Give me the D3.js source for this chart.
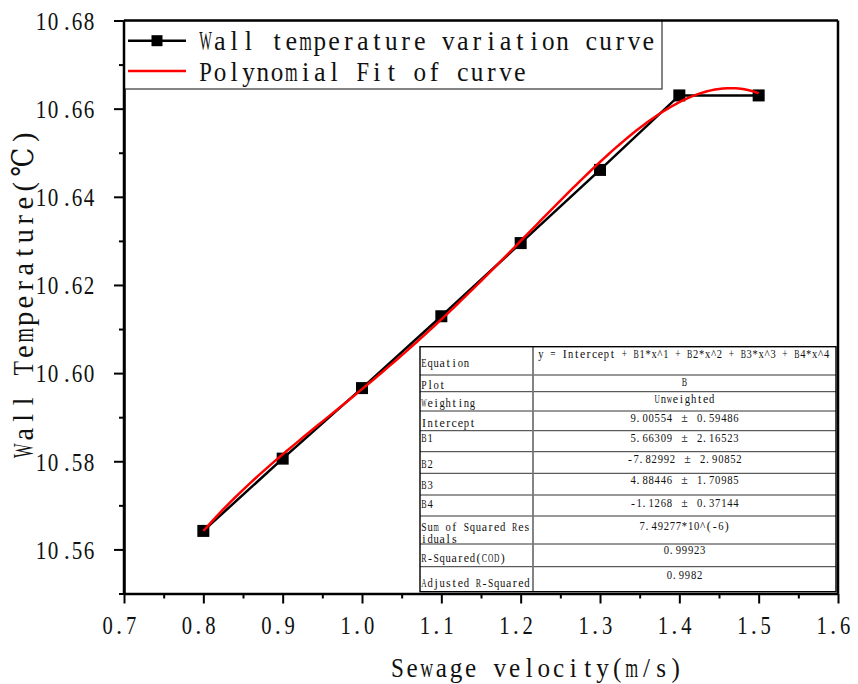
<!DOCTYPE html>
<html>
<head>
<meta charset="utf-8">
<script src="https://cdn.jsdelivr.net/npm/d3@7"></script>
<style>
  html, body { margin: 0; padding: 0; background: #fff; }
  svg { display: block; }
  text { font-family: "Liberation Serif", "DejaVu Serif", serif; fill: #111; }
</style>
</head>
<body>
<svg id="chart" width="858" height="684"></svg>
<script>
// ---- data ----
const velocity = [0.8, 0.9, 1.0, 1.1, 1.2, 1.3, 1.4, 1.5];
const wallTemp = [10.5642, 10.5806, 10.5966, 10.6129, 10.6295, 10.6461, 10.6630, 10.6630];

// polynomial fit: y = Intercept + B1*x + B2*x^2 + B3*x^3 + B4*x^4
const fitCoef = [9.00554, 5.66309, -7.82992, 4.88446, -1.1268];
const fitErr  = [0.59486, 2.16523, 2.90852, 1.70985, 0.37144];

const xTicks = [0.7, 0.8, 0.9, 1.0, 1.1, 1.2, 1.3, 1.4, 1.5, 1.6];
const xMinor = [0.75, 0.85, 0.95, 1.05, 1.15, 1.25, 1.35, 1.45, 1.55];
const yTicks = [10.56, 10.58, 10.60, 10.62, 10.64, 10.66, 10.68];
const yMinor = [10.55, 10.57, 10.59, 10.61, 10.63, 10.65, 10.67];

const legendNames = ["Wall temperature variation curve", "Polynomial Fit of curve"];
const xTitle = "Sewage velocity(m/s)";
const yTitle = "Wall Temperature(\u2103)";

const tableLabels = ["Equation", "Plot", "Weighting", "Intercept", "B1", "B2", "B3", "B4",
  "Sum of Squared Res|iduals", "R-Squared(COD)", "Adjusted R-Squared"];
const tableValues = [
  "y = Intercept + B1*x^1 + B2*x^2 + B3*x^3 + B4*x^4",
  "B",
  "Unweighted",
  ...fitCoef.map((c, i) => `${c} \u00b1 ${fitErr[i]}`),
  "7.49277*10^(-6)",
  "0.99923",
  "0.9982"
];

// ---- fixed-pitch text: one tspan per glyph, each squeezed into its own cell ----
const FONT = '"Liberation Serif", "DejaVu Serif", serif';
const measureCtx = document.createElement("canvas").getContext("2d");
const isWide = ch => /[\u00b1\u2103]/.test(ch);
function monoText(parent, str, o) {
  const { x = 0, y = 0, pitch, fs, k = 0.95, fill = 0.88, anchor = "start", rotate = 0 } = o;
  measureCtx.font = `${fs}px ${FONT}`;
  const chars = Array.from(str);
  const total = chars.reduce((n, ch) => n + (isWide(ch) ? 2 : 1), 0) * pitch;
  const off = anchor === "middle" ? -total / 2 : anchor === "end" ? -total : 0;
  const g = parent.append("g")
    .attr("transform", `translate(${x},${y})` + (rotate ? ` rotate(${rotate})` : ""));
  const t = g.append("text").attr("font-size", fs);
  let cell = 0;
  chars.forEach(ch => {
    const u = isWide(ch) ? 2 : 1;
    if (ch !== " ") {
      const w = measureCtx.measureText(ch).width;
      const tw = Math.min(w * k, fill * u * pitch);
      const cx = ch === "." ? off + (cell + 0.3) * pitch : off + (cell + u / 2) * pitch;
      t.append("tspan").attr("x", (cx - tw / 2).toFixed(2)).attr("y", 0)
        .attr("textLength", tw.toFixed(2)).attr("lengthAdjust", "spacingAndGlyphs").text(ch);
    }
    cell += u;
  });
  return g;
}

// ---- layout ----
const svg = d3.select("#chart");
const L = 124, R = 838, T = 20.5, B = 593.5;
const x = d3.scaleLinear().domain([0.7, 1.6]).range([L, R]);
const y = d3.scaleLinear().domain([10.55, 10.68]).range([B, T]);

// ---- axes ----
const axisW = 2.5;
const gx = svg.append("g").attr("transform", `translate(0,${B})`)
  .call(d3.axisBottom(x).tickValues(xTicks).tickSize(10).tickSizeOuter(0).tickFormat(d3.format(".1f")));
svg.append("g").attr("transform", `translate(0,${B})`)
  .call(d3.axisBottom(x).tickValues(xMinor).tickSize(5).tickSizeOuter(0).tickFormat(""))
  .select(".domain").remove();
const gy = svg.append("g").attr("transform", `translate(${L},0)`)
  .call(d3.axisLeft(y).tickValues(yTicks).tickSize(10).tickSizeOuter(0).tickFormat(d3.format(".2f")));
svg.append("g").attr("transform", `translate(${L},0)`)
  .call(d3.axisLeft(y).tickValues(yMinor).tickSize(5).tickSizeOuter(0).tickFormat(""))
  .select(".domain").remove();

svg.selectAll(".domain").attr("stroke", "#000").attr("stroke-width", axisW);
svg.selectAll(".tick line").attr("stroke", "#000").attr("stroke-width", 2);

// fixed-pitch labels inside each tick group
gx.selectAll(".tick").each(function () {
  const t = d3.select(this);
  const s = t.select("text").text();
  t.select("text").remove();
  monoText(t, s, { x: 0, y: 40.8, pitch: 11.7, fs: 26, anchor: "middle" });
});
gy.selectAll(".tick").each(function () {
  const t = d3.select(this);
  const s = t.select("text").text();
  t.select("text").remove();
  monoText(t, s, { x: -18.5, y: 8.8, pitch: 12.0, fs: 26, anchor: "end" });
});

// frame on the right
svg.append("line").attr("x1", R).attr("x2", R).attr("y1", T).attr("y2", B)
  .attr("stroke", "#000").attr("stroke-width", axisW);

// axis titles
monoText(svg, xTitle, { x: 536.5, y: 677, pitch: 14.65, fs: 26.5, anchor: "middle" });
monoText(svg, yTitle, { x: 33, y: 294, pitch: 16.5, fs: 30, anchor: "middle", rotate: -90 });

// ---- fit table ----
const tL = 420, tM = 533, tR = 836;
const rowEdges = [346.7, 375, 391.7, 411, 430.7, 451.7, 473.3, 495, 516, 544, 566.7, 591.7];
const labelBase = [366.7, 389.3, 406.7, 426.7, 442.3, 467.7, 489, 508.3, 543, 561.7, 586.5];
const valueBase = [358.3, 386, 403.3, 422.3, 441.7, 463.3, 484.3, 506.7, 530, 554.3, 579.3];
const tbl = svg.append("g");
tbl.append("rect").attr("x", tL).attr("y", rowEdges[0]).attr("width", tR - tL)
  .attr("height", rowEdges[rowEdges.length - 1] - rowEdges[0]).attr("fill", "#fff");
rowEdges.slice(1, -1).forEach(e => {
  tbl.append("line").attr("x1", tL).attr("x2", tR).attr("y1", e).attr("y2", e)
    .attr("stroke", "#333").attr("stroke-width", 1);
});
tbl.append("line").attr("x1", tM).attr("x2", tM).attr("y1", rowEdges[0]).attr("y2", rowEdges[rowEdges.length - 1])
  .attr("stroke", "#777").attr("stroke-width", 1.8);
tbl.append("rect").attr("x", tL).attr("y", rowEdges[0]).attr("width", tR - tL)
  .attr("height", rowEdges[rowEdges.length - 1] - rowEdges[0])
  .attr("fill", "none").attr("stroke", "#000").attr("stroke-width", 1.4);

const tFont = 12.6, tChar = 6.05;
tableLabels.forEach((lab, i) => {
  const parts = lab.split("|");
  parts.forEach((p, k) => {
    const base = labelBase[i] - 12.3 * (parts.length - 1 - k);
    monoText(tbl, p, { x: tL + 1, y: base, pitch: tChar, fs: tFont });
  });
});
tableValues.forEach((v, i) => {
  if (i === 0) monoText(tbl, v, { x: tM + 5, y: valueBase[i], pitch: 5.95, fs: tFont });
  else monoText(tbl, v, { x: (tM + tR) / 2, y: valueBase[i], pitch: tChar, fs: tFont, anchor: "middle" });
});

// ---- series ----
const pts = velocity.map((v, i) => [v, wallTemp[i]]);
svg.append("path").datum(pts)
  .attr("d", d3.line().x(d => x(d[0])).y(d => y(d[1])))
  .attr("fill", "none").attr("stroke", "#000").attr("stroke-width", 2.5);
const ms = 12;
svg.append("g").selectAll("rect").data(pts).join("rect")
  .attr("x", d => x(d[0]) - ms / 2).attr("y", d => y(d[1]) - ms / 2)
  .attr("width", ms).attr("height", ms).attr("fill", "#000");

const poly = v => fitCoef.reduce((s, c, k) => s + c * Math.pow(v, k), 0);
const fitX = d3.range(0, 141).map(i => 0.8 + i * 0.005);
svg.append("path").datum(fitX)
  .attr("d", d3.line().x(v => x(v)).y(v => y(poly(v))))
  .attr("fill", "none").attr("stroke", "#ff0000").attr("stroke-width", 2.5);

// ---- legend ----
const lg = svg.append("g");
lg.append("rect").attr("x", L).attr("y", T).attr("width", 662 - L).attr("height", 89 - T)
  .attr("fill", "#fff").attr("stroke", "#333").attr("stroke-width", 1.2);
const legY = [40.7, 71];
lg.append("line").attr("x1", 128).attr("x2", 186).attr("y1", legY[0]).attr("y2", legY[0])
  .attr("stroke", "#000").attr("stroke-width", 2.5);
lg.append("rect").attr("x", 157 - 5.5).attr("y", legY[0] - 5.5).attr("width", 11).attr("height", 11).attr("fill", "#000");
lg.append("line").attr("x1", 128).attr("x2", 186).attr("y1", legY[1]).attr("y2", legY[1])
  .attr("stroke", "#ff0000").attr("stroke-width", 2.5);
legendNames.forEach((n, i) => {
  monoText(lg, n, { x: 198.5, y: [50, 81][i], pitch: 14.28, fs: 27.5 });
});
// plot frame lines drawn last so they sit over the legend box edge
svg.append("line").attr("x1", L).attr("x2", L).attr("y1", T).attr("y2", B)
  .attr("stroke", "#000").attr("stroke-width", axisW);
svg.append("line").attr("x1", L).attr("x2", R).attr("y1", T).attr("y2", T)
  .attr("stroke", "#000").attr("stroke-width", axisW);
</script>
</body>
</html>
